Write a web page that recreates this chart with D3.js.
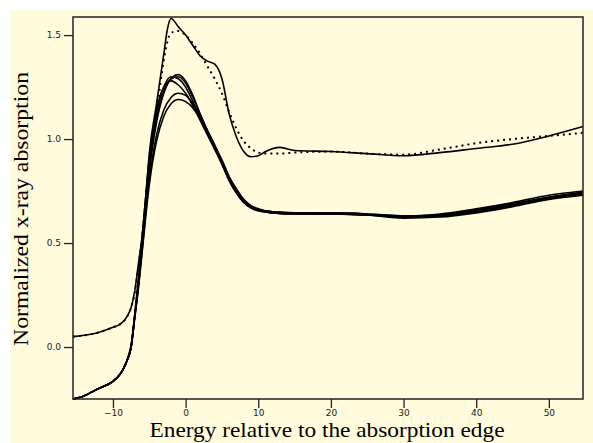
<!DOCTYPE html>
<html>
<head>
<meta charset="utf-8">
<script src="https://cdn.jsdelivr.net/npm/d3@7"></script>
<style>
body { margin: 0; background: #fff; }
</style>
</head>
<body>
<div id="chart"></div>
<script>
// energy grid for the upper (reference) pair
var xUpper = [-15.5, -12, -10, -9, -8, -7.5, -7, -6.5, -6, -5.5, -5, -4, -3, -2.5, -2, -1, 0, 1, 2, 3, 4, 5, 6, 7, 8, 9, 10, 11, 13, 15, 20, 25, 30, 35, 40, 45, 50, 54.7];
var upperSolid = [0.05, 0.07, 0.095, 0.11, 0.15, 0.19, 0.27, 0.40, 0.53, 0.72, 0.93, 1.17, 1.41, 1.53, 1.58, 1.54, 1.50, 1.45, 1.40, 1.375, 1.36, 1.29, 1.12, 1.01, 0.94, 0.915, 0.92, 0.94, 0.96, 0.945, 0.94, 0.93, 0.92, 0.935, 0.955, 0.975, 1.015, 1.06];
var upperDotted = [0.05, 0.07, 0.095, 0.11, 0.15, 0.19, 0.26, 0.39, 0.52, 0.70, 0.90, 1.13, 1.38, 1.47, 1.51, 1.52, 1.50, 1.46, 1.41, 1.35, 1.29, 1.22, 1.13, 1.05, 0.99, 0.955, 0.935, 0.93, 0.93, 0.935, 0.94, 0.93, 0.925, 0.95, 0.98, 1.0, 1.015, 1.03];

// energy grid for the lower bundle of samples
var xLower = [-15.5, -14, -12, -10, -9, -8.5, -8, -7.5, -7, -6.5, -6, -5, -4, -3, -2, -1, 0, 1, 2, 3, 4, 5, 6, 7, 8, 9, 10, 12, 15, 20, 25, 30, 35, 40, 45, 50, 54.7];
var lowerA = [-0.25, -0.235, -0.20, -0.165, -0.13, -0.10, -0.06, 0.0, 0.15, 0.30, 0.48, 0.84, 1.08, 1.22, 1.29, 1.31, 1.28, 1.21, 1.12, 1.04, 0.97, 0.89, 0.81, 0.75, 0.70, 0.675, 0.66, 0.65, 0.645, 0.645, 0.64, 0.63, 0.635, 0.66, 0.69, 0.72, 0.745];
var lowerB = [-0.25, -0.235, -0.20, -0.165, -0.13, -0.10, -0.06, 0.0, 0.15, 0.31, 0.50, 0.87, 1.12, 1.25, 1.30, 1.29, 1.25, 1.18, 1.10, 1.03, 0.96, 0.88, 0.81, 0.75, 0.70, 0.67, 0.655, 0.645, 0.64, 0.64, 0.635, 0.625, 0.63, 0.65, 0.68, 0.715, 0.735];
var lowerC = [-0.25, -0.235, -0.20, -0.165, -0.13, -0.10, -0.055, 0.01, 0.16, 0.33, 0.52, 0.90, 1.14, 1.25, 1.28, 1.26, 1.22, 1.16, 1.09, 1.02, 0.95, 0.88, 0.80, 0.74, 0.695, 0.67, 0.66, 0.65, 0.645, 0.64, 0.635, 0.63, 0.635, 0.655, 0.685, 0.72, 0.74];
var lowerD = [-0.25, -0.235, -0.20, -0.165, -0.13, -0.10, -0.06, 0.0, 0.14, 0.29, 0.46, 0.80, 1.02, 1.14, 1.20, 1.22, 1.21, 1.17, 1.11, 1.04, 0.97, 0.89, 0.81, 0.75, 0.70, 0.67, 0.66, 0.645, 0.64, 0.64, 0.635, 0.62, 0.625, 0.645, 0.675, 0.71, 0.73];
var lowerE = [-0.25, -0.235, -0.20, -0.165, -0.13, -0.10, -0.06, 0.0, 0.14, 0.28, 0.45, 0.78, 0.99, 1.11, 1.17, 1.19, 1.18, 1.15, 1.10, 1.04, 0.97, 0.90, 0.82, 0.76, 0.71, 0.68, 0.665, 0.65, 0.645, 0.645, 0.64, 0.63, 0.64, 0.665, 0.695, 0.73, 0.75];
var lowerF = [-0.25, -0.235, -0.20, -0.165, -0.13, -0.10, -0.06, 0.0, 0.15, 0.30, 0.49, 0.86, 1.10, 1.23, 1.29, 1.30, 1.27, 1.20, 1.12, 1.04, 0.96, 0.88, 0.80, 0.74, 0.695, 0.67, 0.655, 0.645, 0.64, 0.64, 0.635, 0.625, 0.63, 0.65, 0.685, 0.72, 0.74];

var xTicks = [-10, 0, 10, 20, 30, 40, 50];
var yTicks = [0.0, 0.5, 1.0, 1.5];

var width = 593;
var height = 443;
var margin = { top: 17, right: 10, bottom: 44, left: 73 };

var svg = d3.select("#chart").append("svg")
    .attr("width", width)
    .attr("height", height);

// cream panel, the picture has a thin white strip top and left
svg.append("rect")
    .attr("x", 10)
    .attr("y", 10)
    .attr("width", width - 10)
    .attr("height", height - 10)
    .style("fill", "#fffbdc");

var x = d3.scaleLinear()
    .domain([-15.5, 54.7])
    .range([margin.left, width - margin.right]);

var y = d3.scaleLinear()
    .domain([-0.25, 1.587])
    .range([height - margin.bottom, margin.top]);

function pairs(xs, ys) {
    return xs.map(function(v, i) { return [v, ys[i]]; });
}

var line = d3.line()
    .x(function(d) { return x(d[0]); })
    .y(function(d) { return y(d[1]); })
    .curve(d3.curveMonotoneX);

var plot = svg.append("g");

[lowerA, lowerB, lowerC, lowerD, lowerE, lowerF].forEach(function(s) {
    plot.append("path")
        .attr("d", line(pairs(xLower, s)))
        .style("fill", "none")
        .style("stroke", "#000")
        .style("stroke-width", 1.6);
});

plot.append("path")
    .attr("d", line(pairs(xUpper, upperDotted)))
    .style("fill", "none")
    .style("stroke", "#000")
    .style("stroke-width", 2)
    .style("stroke-dasharray", "2,4");

plot.append("path")
    .attr("d", line(pairs(xUpper, upperSolid)))
    .style("fill", "none")
    .style("stroke", "#000")
    .style("stroke-width", 1.6);

// frame
svg.append("rect")
    .attr("x", x.range()[0])
    .attr("y", y.range()[1])
    .attr("width", x.range()[1] - x.range()[0])
    .attr("height", y.range()[0] - y.range()[1])
    .style("fill", "none")
    .style("stroke", "#222")
    .style("stroke-width", 1.5);

var xAxis = svg.append("g")
    .attr("transform", "translate(0," + (height - margin.bottom) + ")")
    .call(d3.axisBottom(x).tickValues(xTicks).tickSize(9).tickPadding(2).tickFormat(d3.format("d")));

var yAxis = svg.append("g")
    .attr("transform", "translate(" + margin.left + ",0)")
    .call(d3.axisLeft(y).tickValues(yTicks).tickSize(9).tickPadding(3).tickFormat(d3.format(".1f")));

[xAxis, yAxis].forEach(function(a) {
    a.select(".domain").remove();
    a.selectAll("line").style("stroke", "#222").style("stroke-width", 1.3);
    a.selectAll("text")
        .style("font-family", "DejaVu Sans, sans-serif")
        .style("font-size", "9px")
        .style("fill", "#222");
});

// axis titles, stretched a bit wider like the original
svg.append("text")
    .attr("x", 327)
    .attr("y", 437)
    .attr("text-anchor", "middle")
    .attr("textLength", 355)
    .attr("lengthAdjust", "spacingAndGlyphs")
    .style("font-family", "Liberation Serif, serif")
    .style("font-size", "21px")
    .text("Energy relative to the absorption edge");

svg.append("text")
    .attr("transform", "translate(28,209) rotate(-90)")
    .attr("text-anchor", "middle")
    .attr("textLength", 274)
    .attr("lengthAdjust", "spacingAndGlyphs")
    .style("font-family", "Liberation Serif, serif")
    .style("font-size", "21px")
    .text("Normalized x-ray absorption");
</script>
</body>
</html>
